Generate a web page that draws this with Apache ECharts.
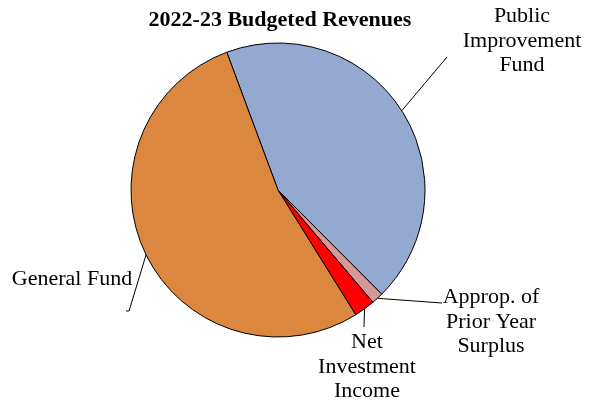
<!DOCTYPE html>
<html>
<head>
<meta charset="utf-8">
<script src="https://cdn.jsdelivr.net/npm/echarts@6/dist/echarts.min.js"></script>
<style>html,body{margin:0;padding:0;background:#fff}#c{width:594px;height:405px}</style>
</head>
<body>
<div id="c"></div>
<script>
var categories = ['Public Improvement Fund', 'Approp. of Prior Year Surplus', 'Net Investment Income', 'General Fund'];
var labelTexts = ['Public\nImprovement\nFund', 'Approp. of\nPrior Year\nSurplus', 'Net\nInvestment\nIncome', 'General Fund'];
var values = [43.2, 1.3, 2.3, 53.2];
var colors = ['#94A9D0', '#D59899', '#FF0000', '#DC873F'];

// label placement (layout only)
var labelPos = [
  {x: 522, y: 41, line: [[447, 57], [447, 57]]},
  {x: 491, y: 322, line: [[442, 303], [442, 303]]},
  {x: 367, y: 367, line: [[364, 327], [364, 327]]},
  {x: 72, y: 279, line: [[129, 311], [126, 311]]}
];

var chart = echarts.init(document.getElementById('c'), null, {renderer: 'canvas'});
var cx = 278, cy = 190, R = 147, startAngle = 110.4;
var total = values.reduce(function(a, b){return a + b;}, 0);
function edgePoint(i) {
  var acc = 0;
  for (var k = 0; k < i; k++) acc += values[k];
  var mid = startAngle - (acc + values[i] / 2) / total * 360;
  var rad = mid * Math.PI / 180;
  return [cx + R * Math.cos(rad), cy - R * Math.sin(rad)];
}
chart.setOption({
  animation: false,
  title: {
    text: '2022-23 Budgeted Revenues',
    left: 275, top: 4, textAlign: 'center',
    textStyle: {fontFamily: 'Liberation Serif', fontWeight: 'bold', fontSize: 22, color: '#000'}
  },
  series: [{
    type: 'pie',
    center: [cx, cy],
    radius: R,
    startAngle: startAngle,
    clockwise: true,
    avoidLabelOverlap: false,
    data: categories.map(function(n, i){
      return {name: n, value: values[i], itemStyle: {color: colors[i]}};
    }),
    itemStyle: {borderColor: '#000', borderWidth: 1},
    label: {
      show: true, position: 'outside',
      formatter: function(p){ return labelTexts[p.dataIndex]; },
      fontFamily: 'Liberation Serif', fontSize: 22, lineHeight: 24.5, color: '#000', align: 'center'
    },
    labelLine: {show: true, length: 10, length2: 10, lineStyle: {color: '#000', width: 1}},
    emphasis: {disabled: true},
    labelLayout: function(params) {
      var i = params.dataIndex;
      var lp = labelPos[i];
      var p0 = edgePoint(i);
      return {
        x: lp.x, y: lp.y, align: 'center', verticalAlign: 'middle',
        labelLinePoints: [p0, lp.line[0], lp.line[1]]
      };
    }
  }]
});
</script>
</body>
</html>
